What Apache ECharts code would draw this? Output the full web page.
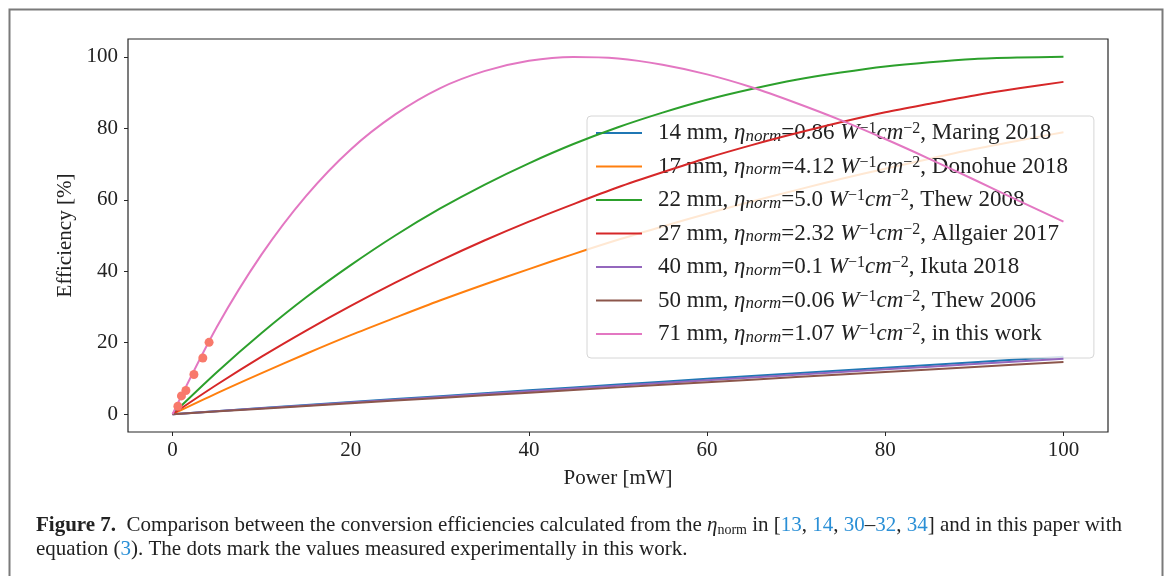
<!DOCTYPE html>
<html><head><meta charset="utf-8">
<script src="https://cdn.jsdelivr.net/npm/echarts@6/dist/echarts.min.js"></script>
<style>html,body{margin:0;padding:0;background:#fff}#c{width:1165px;height:576px}</style>
</head><body><div id="c"></div>
<script>
// ---- data ----
const powerFine   = [0,5,10,15,20,25,30,35,40,45,50,55,60,65,70,75,80,85,90,95,100];
const powerCoarse = [0,10,20,30,40,50,60,70,80,90,100];
const lengths = ['14 mm','17 mm','22 mm','27 mm','40 mm','50 mm','71 mm'];
const etaNorm = ['0.86','4.12','5.0','2.32','0.1','0.06','1.07'];
const sources = ['Maring 2018','Donohue 2018','Thew 2008','Allgaier 2017','Ikuta 2018','Thew 2006','in this work'];
const eff14 = [0,1.69,3.37,5.03,6.66,8.28,9.88,11.45,13.01,14.55,16.07];
const eff17 = [0,5.9,11.5,16.9,22.1,27.0,31.8,36.3,40.6,44.8,48.8,52.5,56.1,59.5,62.7,65.8,68.7,71.5,74.2,76.6,78.9];
const eff22 = [0,11.8,22.7,32.7,41.7,50.0,57.5,64.2,70.2,75.6,80.3,84.4,88.0,91.0,93.6,95.6,97.3,98.5,99.4,99.8,100];
const eff27 = [0,8.3,16.1,23.4,30.3,36.8,42.9,48.6,53.9,58.8,63.5,67.7,71.7,75.3,78.6,81.7,84.5,86.9,89.2,91.2,93.0];
const eff40 = [0,1.63,3.24,4.83,6.41,7.97,9.51,11.03,12.53,14.02,15.49];
const eff50 = [0,1.53,3.04,4.54,6.02,7.49,8.94,10.37,11.79,13.20,14.58];
const eff71 = [0,24.5,44.7,61.1,74.1,83.9,91.2,96.0,98.9,99.97,99.55,97.8,95.1,91.5,87.1,82.3,77.0,71.4,65.6,59.7,53.9];
const measuredPower = [0.6,1.0,1.5,2.4,3.4,4.1];
const measuredEff   = [2.2,5.1,6.6,11.1,15.7,20.1];
const xTicks = [0,20,40,60,80,100];
const yTicks = [0,20,40,60,80,100];

// ---- build ----
const colors = ['#1f77b4','#ff7f0e','#2ca02c','#d62728','#9467bd','#8c564b','#e377c2'];
const effSets = [eff14,eff17,eff22,eff27,eff40,eff50,eff71];
const xSets = [powerCoarse,powerFine,powerFine,powerFine,powerCoarse,powerCoarse,powerFine];
const names = lengths.map((l,i)=>`${l}, η_norm=${etaNorm[i]} W^-1cm^-2, ${sources[i]}`);
const zip = (xs,ys)=>xs.map((x,i)=>[x,ys[i]]);
const FONT = '"Liberation Serif", "DejaVu Serif", serif';

const series = names.map((n,i)=>({
  name:n, type:'line', data:zip(xSets[i],effSets[i]), symbol:'none', smooth:0.3,
  lineStyle:{color:colors[i], width:2}, itemStyle:{color:colors[i]}, z:2+i
}));
series.push({
  name:'measured', type:'scatter', data:zip(measuredPower,measuredEff),
  symbolSize:9, itemStyle:{color:'#f8796b', opacity:1}, z:20
});

const base = {fontFamily:FONT, fontSize:23, color:'#222', lineHeight:24};
const rich = {
  sp:{width:11},
  r:{...base},
  i:{...base, fontStyle:'italic'},
  sub:{fontFamily:FONT, fontSize:17, fontStyle:'italic', color:'#222', lineHeight:14, verticalAlign:'bottom'},
  sup:{fontFamily:FONT, fontSize:16, color:'#222', lineHeight:14, verticalAlign:'top'}
};

const capBase = {fontFamily:FONT, fontSize:21, fill:'#222', lineHeight:23};
const capRich = {
  t:{...capBase},
  b:{...capBase, fontWeight:'bold'},
  e:{...capBase, fontStyle:'italic'},
  s:{fontFamily:FONT, fontSize:14, fill:'#222', lineHeight:13, verticalAlign:'bottom'},
  l:{...capBase, fill:'#2a8fd6'}
};

const chart = echarts.init(document.getElementById('c'), null, {renderer:'canvas'});
chart.setOption({
  animation:false,
  backgroundColor:'#fff',
  grid:{left:128, right:57, top:39, bottom:144, show:true, borderColor:'#262626', borderWidth:1.2, backgroundColor:'transparent'},
  xAxis:{type:'value', min:-5, max:105,
    name:'Power [mW]', nameLocation:'middle', nameGap:36,
    nameTextStyle:{fontFamily:FONT, fontSize:21, color:'#222'},
    axisLine:{show:false, onZero:false},
    axisTick:{show:true, length:4, customValues:xTicks, lineStyle:{color:'#262626'}},
    axisLabel:{customValues:xTicks, fontFamily:FONT, fontSize:21, color:'#222', margin:8},
    splitLine:{show:false}},
  yAxis:{type:'value', min:-5, max:105,
    name:'Efficiency [%]', nameLocation:'middle', nameGap:49,
    nameTextStyle:{fontFamily:FONT, fontSize:21, color:'#222'},
    axisLine:{show:false, onZero:false},
    axisTick:{show:true, length:4, customValues:yTicks, lineStyle:{color:'#262626'}},
    axisLabel:{customValues:yTicks, fontFamily:FONT, fontSize:21, color:'#222', margin:10},
    splitLine:{show:false}},
  legend:{
    data:names, orient:'vertical', left:587, top:116,
    icon:'rect', itemWidth:46, itemHeight:2, itemGap:9.5,
    padding:[5,26,12,9],
    backgroundColor:'rgba(255,255,255,0.82)', borderColor:'#d6d6d6', borderWidth:1, borderRadius:4,
    formatter:function(name){
      const i = names.indexOf(name);
      return `{sp|}{r|${lengths[i]}, }{i|η}{sub|norm}{r|=${etaNorm[i]} }{i|W}{sup|−1}{i|cm}{sup|−2}{r|, ${sources[i]}}`;
    },
    textStyle:{rich:rich}
  },
  graphic:[
    {type:'rect', left:7, top:7, shape:{x:0,y:0,width:1153,height:620}, style:{fill:'none', stroke:'#7a7a7a', lineWidth:2}, silent:true},
    {type:'text', left:36, top:515, style:{
      text:'{b|Figure 7.}{t|  Comparison between the conversion efficiencies calculated from the }{e|η}{s|norm}{t| in [}{l|13}{t|, }{l|14}{t|, }{l|30}{t|–}{l|32}{t|, }{l|34}{t|] and in this paper with}',
      rich:capRich}},
    {type:'text', left:36, top:539, style:{
      text:'{t|equation (}{l|3}{t|). The dots mark the values measured experimentally in this work.}',
      rich:capRich}}
  ],
  series:series
});
</script></body></html>
